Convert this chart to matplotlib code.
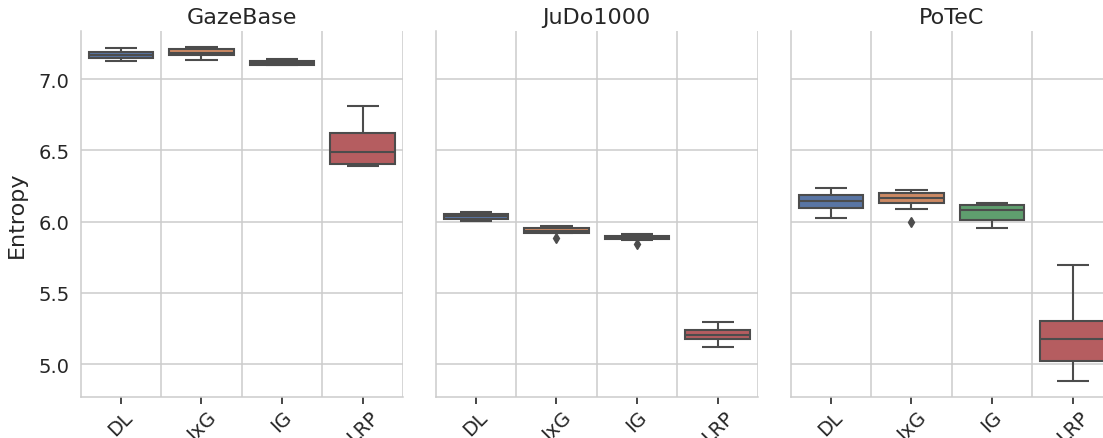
import colorsys
import numpy as np
import matplotlib
matplotlib.use("Agg")
import matplotlib.pyplot as plt
import matplotlib.colors as mcolors

# --- data (box stats per method) ---
datasets = ["GazeBase", "JuDo1000", "PoTeC"]
methods = ["DL", "IxG", "IG", "LRP"]

whislo = [[7.126, 7.135, 7.098, 6.388],
          [6.004, 5.920, 5.873, 5.119],
          [6.027, 6.086, 5.957, 4.884]]
q1 = [[7.145, 7.168, 7.100, 6.404],
      [6.020, 5.922, 5.875, 5.175],
      [6.095, 6.128, 6.009, 5.022]]
med = [[7.168, 7.182, 7.112, 6.486],
       [6.036, 5.936, 5.886, 5.207],
       [6.143, 6.168, 6.080, 5.177]]
q3 = [[7.187, 7.210, 7.126, 6.620],
      [6.056, 5.956, 5.898, 5.236],
      [6.185, 6.200, 6.118, 5.300]]
whishi = [[7.215, 7.227, 7.142, 6.810],
          [6.070, 5.970, 5.910, 5.297],
          [6.235, 6.220, 6.130, 5.696]]
fliers = [[[], [], [], []],
          [[], [5.888], [5.843], []],
          [[], [5.995], [], []]]

deep = ["#4C72B0", "#DD8452", "#55A868", "#C44E52"]


def desaturate(c, prop):
    h, l, s = colorsys.rgb_to_hls(*mcolors.to_rgb(c))
    return colorsys.hls_to_rgb(h, l, s * prop)


box_colors = [desaturate(c, 0.75) for c in deep]
lum = min(colorsys.rgb_to_hls(*c)[1] for c in box_colors) * 0.6
gray = (lum, lum, lum)

plt.rcParams["font.family"] = ["DejaVu Sans"]
plt.rcParams["text.color"] = "#262626"
plt.rcParams["axes.labelcolor"] = "#262626"
plt.rcParams["xtick.color"] = "#262626"
plt.rcParams["ytick.color"] = "#262626"

W, H = 1103, 439
fig = plt.figure(figsize=(W / 100, H / 100), dpi=100)

lefts = [80.5, 435.5, 790.5]
pw = 322.5
top, bottom = 32, 398

axes = []
for k, name in enumerate(datasets):
    ax = fig.add_axes([lefts[k] / W, 1 - bottom / H, pw / W, (bottom - top) / H],
                      sharey=axes[0] if axes else None)
    axes.append(ax)

    stats = []
    for i in range(len(methods)):
        stats.append(dict(whislo=whislo[k][i], q1=q1[k][i], med=med[k][i],
                          q3=q3[k][i], whishi=whishi[k][i], fliers=fliers[k][i]))

    bp = ax.bxp(stats, positions=np.arange(len(methods)), widths=0.8,
                patch_artist=True, showfliers=True,
                boxprops=dict(edgecolor=gray, linewidth=1.5),
                whiskerprops=dict(color=gray, linewidth=1.5, solid_capstyle="butt"),
                capprops=dict(color=gray, linewidth=1.5, solid_capstyle="butt"),
                medianprops=dict(color=gray, linewidth=1.5, solid_capstyle="butt"),
                flierprops=dict(marker="d", markerfacecolor=gray, markeredgecolor=gray,
                                markersize=5, linestyle="none"))
    for patch, col in zip(bp["boxes"], box_colors):
        patch.set_facecolor(col)

    ax.set_xlim(-0.5, len(methods) - 0.5)
    ax.set_ylim(4.769, 7.337)
    ax.set_yticks([5.0, 5.5, 6.0, 6.5, 7.0])
    ax.set_xticks(np.arange(len(methods)))
    ax.set_xticklabels(methods, rotation=45, fontsize=14)
    ax.set_xticks(np.arange(len(methods)) + 0.5, minor=True)
    ax.tick_params(axis="x", which="major", length=5, width=1.2, color="#262626", pad=2)
    ax.tick_params(axis="x", which="minor", length=0)
    ax.tick_params(axis="y", length=0, labelsize=14, pad=8)

    ax.grid(False)
    ax.grid(True, axis="y", which="major", color="#cccccc", linewidth=1.1)
    ax.grid(True, axis="x", which="minor", color="#cccccc", linewidth=1.1)
    ax.set_axisbelow(True)
    for s in ["top", "right"]:
        ax.spines[s].set_visible(False)
    for s in ["left", "bottom"]:
        ax.spines[s].set_color("#cccccc")
        ax.spines[s].set_linewidth(1.1)

    ax.set_title(name, fontsize=16)
    if k == 0:
        ax.set_ylabel("Entropy", fontsize=16, labelpad=8)
    else:
        ax.tick_params(axis="y", labelleft=False)

fig.savefig("out.png", dpi=100)
